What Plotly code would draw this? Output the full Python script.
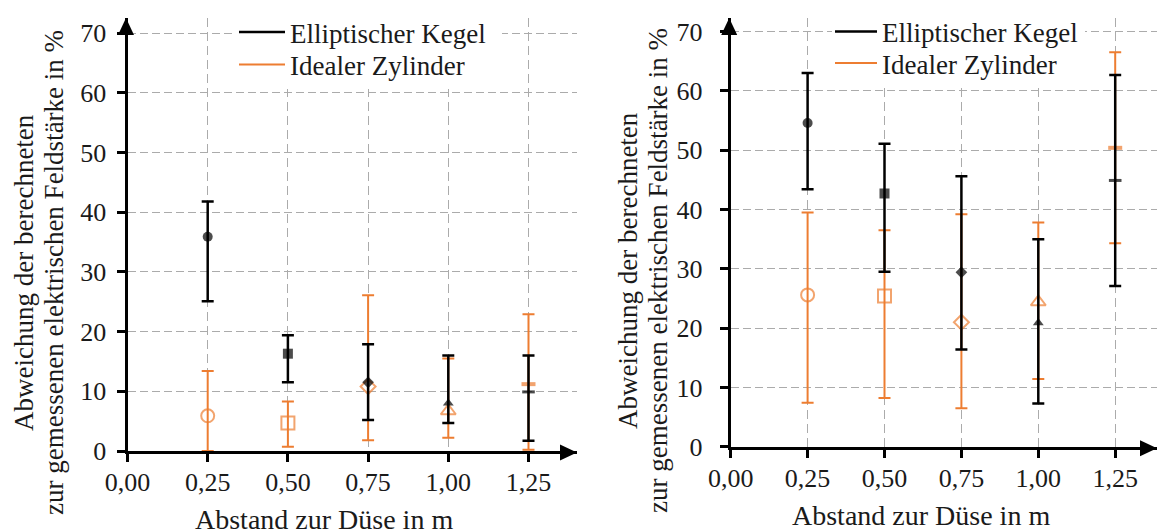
import plotly.graph_objects as go

# ---------------- data ----------------
distances = [0.25, 0.50, 0.75, 1.00, 1.25]

kegel_name = "Elliptischer Kegel"
zyl_name = "Idealer Zylinder"

kegel_symbols = ["circle", "square", "diamond", "triangle-up", "line-ew"]
zyl_symbols = ["circle-open", "square-open", "diamond-open", "triangle-up-open", "line-ew"]

# left panel
left_kegel_mean = [35.9, 16.3, 11.5, 8.0, 9.9]
left_kegel_upper = [41.8, 19.4, 17.9, 16.0, 16.0]
left_kegel_lower = [25.1, 11.5, 5.2, 4.7, 1.7]
left_zyl_mean = [5.9, 4.7, 10.8, 6.7, 11.2]
left_zyl_upper = [13.4, 8.3, 26.1, 15.5, 22.9]
left_zyl_lower = [0.0, 0.7, 1.8, 2.2, 0.2]

# right panel
right_kegel_mean = [54.6, 42.7, 29.4, 20.9, 44.9]
right_kegel_upper = [63.0, 51.1, 45.6, 35.0, 62.7]
right_kegel_lower = [43.4, 29.5, 16.4, 7.3, 27.1]
right_zyl_mean = [25.6, 25.4, 21.0, 24.4, 50.4]
right_zyl_upper = [39.5, 36.5, 39.2, 37.8, 66.5]
right_zyl_lower = [7.4, 8.2, 6.5, 11.4, 34.3]

y_title_1 = "Abweichung der berechneten"
y_title_2 = "zur gemessenen elektrischen Feldstärke in %"
x_title = "Abstand zur Düse in m"

# ---------------- style ----------------
W, H = 1157, 532
BLACK = "#000000"
ORANGE = "#ED7D31"
GRID = "#ABABAB"
FONT = "Liberation Serif"
TXT = "#1a1a1a"

fig = go.Figure()


def err(mean, upper, lower):
    return dict(type="data", symmetric=False,
                array=[u - m for u, m in zip(upper, mean)],
                arrayminus=[m - l for m, l in zip(mean, lower)])


def add_panel(xa, ya, kmean, kup, klow, zmean, zup, zlow, leg_k, leg_z):
    e = err(zmean, zup, zlow)
    e.update(color=ORANGE, thickness=2, width=6)
    fig.add_trace(go.Scatter(
        x=distances, y=zmean, mode="markers", xaxis=xa, yaxis=ya,
        showlegend=False, error_y=e, cliponaxis=False,
        marker=dict(symbol=zyl_symbols, size=[13, 13, 11.5, 13, 10],
                    color=ORANGE, line=dict(color=ORANGE, width=[2, 2, 2, 2, 4]))))
    e = err(kmean, kup, klow)
    e.update(color=BLACK, thickness=2.5, width=6)
    fig.add_trace(go.Scatter(
        x=distances, y=kmean, mode="markers", xaxis=xa, yaxis=ya,
        showlegend=False, error_y=e, cliponaxis=False,
        marker=dict(symbol=kegel_symbols, size=[10, 10, 9, 9.5, 9],
                    color=BLACK, line=dict(color=BLACK, width=[0, 0, 0, 0, 3]))))
    fig.add_trace(go.Scatter(x=[None], y=[None], mode="lines", xaxis=xa, yaxis=ya,
                             name=kegel_name, legend=leg_k,
                             line=dict(color=BLACK, width=2.5)))
    fig.add_trace(go.Scatter(x=[None], y=[None], mode="lines", xaxis=xa, yaxis=ya,
                             name=zyl_name, legend=leg_z,
                             line=dict(color=ORANGE, width=2)))


add_panel("x", "y", left_kegel_mean, left_kegel_upper, left_kegel_lower,
          left_zyl_mean, left_zyl_upper, left_zyl_lower, "legend", "legend3")
add_panel("x2", "y2", right_kegel_mean, right_kegel_upper, right_kegel_lower,
          right_zyl_mean, right_zyl_upper, right_zyl_lower, "legend2", "legend4")

# panel geometry (pixels)
L = dict(x0=127.5, x1=577.0, y0=451.0, y1=18.0, xs=320.8, ys=5.97,
         box=(233, 502, 89), xr="x", yr="y")
R = dict(x0=730.7, x1=1157.0, y0=446.7, y1=18.0, xs=307.6, ys=5.93,
         box=(832, 1085, 88), xr="x2", yr="y2")


def xaxis(p, anchor, standoff):
    return dict(domain=[p["x0"] / W, p["x1"] / W], anchor=anchor,
                range=[0, (p["x1"] - p["x0"]) / p["xs"]], automargin=False,
                tick0=0, dtick=0.25, tickformat=".2f",
                showline=True, linecolor=BLACK, linewidth=3,
                ticks="outside", ticklen=8, tickwidth=2.5, tickcolor=BLACK,
                showgrid=True, gridcolor=GRID, gridwidth=1.3, griddash="9px,5px",
                zeroline=False, ticklabelstandoff=standoff,
                tickfont=dict(family=FONT, size=26, color=TXT))


def yaxis(p, anchor, standoff):
    return dict(domain=[1 - p["y0"] / H, 1 - p["y1"] / H], anchor=anchor,
                range=[0, (p["y0"] - p["y1"]) / p["ys"]], automargin=False,
                tick0=0, dtick=10,
                showline=True, linecolor=BLACK, linewidth=3,
                ticks="outside", ticklen=8, tickwidth=2.5, tickcolor=BLACK,
                showgrid=True, gridcolor=GRID, gridwidth=1.3, griddash="8px,4px",
                zeroline=False, ticklabelstandoff=standoff,
                tickfont=dict(family=FONT, size=26, color=TXT))


def legend(xpx, ypx, itemwidth):
    return dict(x=xpx / W, y=1 - ypx / H, xanchor="left", yanchor="middle",
                xref="paper", yref="paper", bgcolor="rgba(0,0,0,0)", borderwidth=0,
                itemwidth=itemwidth, tracegroupgap=0,
                font=dict(family=FONT, size=27, color=TXT))


shapes = []
for p in (L, R):
    # white background behind the legend (hides grid lines, below traces)
    bx0, bx1, by = p["box"]
    shapes.append(dict(type="rect", layer="between", xref=p["xr"], yref=p["yr"],
                       x0=(bx0 - p["x0"]) / p["xs"], x1=(bx1 - p["x0"]) / p["xs"],
                       y0=(p["y0"] - by) / p["ys"], y1=(p["y0"] - p["y1"]) / p["ys"] + 1,
                       fillcolor="white", line=dict(width=0)))
    # x-axis arrow head
    shapes.append(dict(type="path", xref="paper", yref="paper",
                       xsizemode="pixel", ysizemode="pixel",
                       xanchor=p["x1"] / W, yanchor=1 - (p["y0"] + 1.5) / H,
                       path="M -17,-8 L 0,0 L -17,8 Z",
                       fillcolor=BLACK, line=dict(width=0)))
    # y-axis arrow head
    shapes.append(dict(type="path", xref="paper", yref="paper",
                       xsizemode="pixel", ysizemode="pixel",
                       xanchor=(p["x0"] - 1.5) / W, yanchor=1 - p["y1"] / H,
                       path="M -8,-17 L 0,0 L 8,-17 Z",
                       fillcolor=BLACK, line=dict(width=0)))

ann_font = dict(family=FONT, size=27, color=TXT)
annotations = []
for (x1, x2, yc, xt, yt) in [(24, 54, 273, 323.5, 519), (628, 658, 271, 921, 515)]:
    annotations.append(dict(text=y_title_1, x=x1 / W, y=1 - yc / H, xref="paper", yref="paper",
                            textangle=-90, showarrow=False, xanchor="center", yanchor="middle",
                            font=ann_font))
    annotations.append(dict(text=y_title_2, x=x2 / W, y=1 - yc / H, xref="paper", yref="paper",
                            textangle=-90, showarrow=False, xanchor="center", yanchor="middle",
                            font=ann_font))
    annotations.append(dict(text=x_title, x=xt / W, y=1 - yt / H, xref="paper", yref="paper",
                            showarrow=False, xanchor="center", yanchor="middle",
                            font=dict(family=FONT, size=28, color=TXT)))

fig.update_layout(
    template="none",
    width=W, height=H, margin=dict(l=0, r=0, t=0, b=0, pad=0), autosize=False,
    paper_bgcolor="white", plot_bgcolor="white",
    separators=",.",
    font=dict(family=FONT, size=26, color=TXT),
    xaxis=xaxis(L, "y", -2), yaxis=yaxis(L, "x", 5),
    xaxis2=xaxis(R, "y2", -2), yaxis2=yaxis(R, "x2", 12),
    legend=legend(234, 32.5, 46), legend3=legend(234, 65, 46),
    legend2=legend(830, 32, 42), legend4=legend(830, 63.5, 42),
    shapes=shapes, annotations=annotations,
)

fig.write_html("out.html", config={"displayModeBar": False},
               post_script="document.body.style.margin='0';document.body.style.padding='0';")
